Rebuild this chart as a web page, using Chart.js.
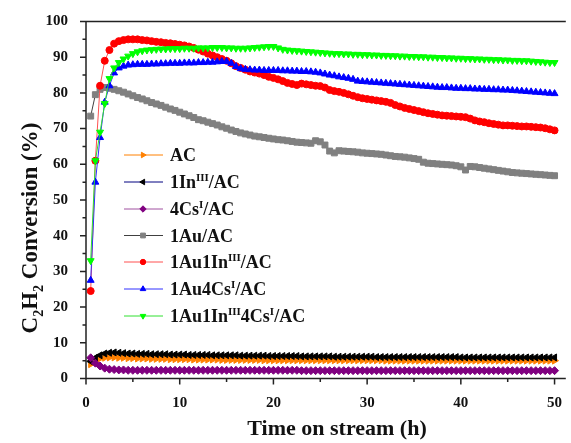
<!DOCTYPE html>
<html>
<head>
<meta charset="utf-8">
<script src="https://cdn.jsdelivr.net/npm/chart.js@4.4.0/dist/chart.umd.min.js"></script>
<style>
  html, body { margin: 0; padding: 0; background: #fff; }
</style>
</head>
<body>
<canvas id="convChart" width="571" height="443"></canvas>
<script>
// time on stream (h)
const hours = [
  0.5, 1, 1.5, 2, 2.5, 3, 3.5, 4, 4.5, 5,
  5.5, 6, 6.5, 7, 7.5, 8, 8.5, 9, 9.5, 10,
  10.5, 11, 11.5, 12, 12.5, 13, 13.5, 14, 14.5, 15,
  15.5, 16, 16.5, 17, 17.5, 18, 18.5, 19, 19.5, 20,
  20.5, 21, 21.5, 22, 22.5, 23, 23.5, 24, 24.5, 25,
  25.5, 26, 26.5, 27, 27.5, 28, 28.5, 29, 29.5, 30,
  30.5, 31, 31.5, 32, 32.5, 33, 33.5, 34, 34.5, 35,
  35.5, 36, 36.5, 37, 37.5, 38, 38.5, 39, 39.5, 40,
  40.5, 41, 41.5, 42, 42.5, 43, 43.5, 44, 44.5, 45,
  45.5, 46, 46.5, 47, 47.5, 48, 48.5, 49, 49.5, 50
];

const xTicks = [0, 10, 20, 30, 40, 50];
const yTicks = [0, 10, 20, 30, 40, 50, 60, 70, 80, 90, 100];

// legend names, ^{..} marks a superscript
const seriesNames = [
  'AC',
  '1In^{III}/AC',
  '4Cs^{I}/AC',
  '1Au/AC',
  '1Au1In^{III}/AC',
  '1Au4Cs^{I}/AC',
  '1Au1In^{III}4Cs^{I}/AC'
];

// C2H2 conversion (%)
const convAC = [
  4.0, 5.0, 5.6, 5.8, 5.9, 5.9, 5.8, 5.8, 5.7, 5.7,
  5.6, 5.6, 5.6, 5.5, 5.5, 5.5, 5.5, 5.4, 5.4, 5.4,
  5.4, 5.4, 5.3, 5.3, 5.3, 5.3, 5.3, 5.3, 5.2, 5.2,
  5.2, 5.2, 5.2, 5.2, 5.2, 5.2, 5.2, 5.1, 5.1, 5.1,
  5.1, 5.1, 5.1, 5.1, 5.1, 5.1, 5.1, 5.1, 5.1, 5.1,
  5.1, 5.1, 5.1, 5.1, 5.1, 5.1, 5.1, 5.1, 5.1, 5.1,
  5.1, 5.1, 5.1, 5.0, 5.0, 5.0, 5.0, 5.0, 5.0, 5.0,
  5.0, 5.0, 5.0, 5.0, 5.0, 5.0, 5.0, 5.0, 5.0, 5.0,
  5.0, 5.0, 5.0, 5.0, 5.0, 5.0, 5.0, 5.0, 5.0, 5.0,
  5.0, 5.0, 5.0, 5.0, 5.0, 5.0, 5.0, 5.0, 5.0, 5.0
];
const conv1In = [
  4.8, 5.8, 6.5, 7.0, 7.2, 7.3, 7.2, 7.1, 7.0, 7.0,
  6.9, 6.9, 6.9, 6.8, 6.8, 6.8, 6.8, 6.7, 6.7, 6.7,
  6.7, 6.6, 6.6, 6.6, 6.6, 6.6, 6.5, 6.5, 6.5, 6.5,
  6.5, 6.5, 6.4, 6.4, 6.4, 6.4, 6.4, 6.4, 6.3, 6.3,
  6.3, 6.3, 6.3, 6.3, 6.3, 6.2, 6.2, 6.2, 6.2, 6.2,
  6.2, 6.2, 6.1, 6.1, 6.1, 6.1, 6.1, 6.1, 6.1, 6.1,
  6.1, 6.0, 6.0, 6.0, 6.0, 6.0, 6.0, 6.0, 6.0, 6.0,
  6.0, 6.0, 6.0, 6.0, 6.0, 6.0, 6.0, 6.0, 6.0, 5.9,
  5.9, 5.9, 5.9, 5.9, 5.9, 5.9, 5.9, 5.9, 5.9, 5.9,
  5.9, 5.9, 5.9, 5.9, 5.9, 5.9, 5.9, 5.9, 5.9, 5.9
];
const conv4Cs = [
  5.8, 4.3, 3.5, 2.9, 2.6, 2.5, 2.4, 2.4, 2.3, 2.3,
  2.3, 2.3, 2.3, 2.3, 2.3, 2.3, 2.3, 2.3, 2.3, 2.3,
  2.3, 2.3, 2.3, 2.3, 2.3, 2.3, 2.3, 2.3, 2.3, 2.3,
  2.3, 2.3, 2.3, 2.3, 2.3, 2.3, 2.3, 2.3, 2.3, 2.3,
  2.3, 2.3, 2.3, 2.3, 2.3, 2.2, 2.2, 2.2, 2.2, 2.2,
  2.2, 2.2, 2.2, 2.2, 2.2, 2.2, 2.2, 2.2, 2.2, 2.2,
  2.2, 2.2, 2.2, 2.2, 2.2, 2.2, 2.2, 2.2, 2.2, 2.2,
  2.2, 2.2, 2.2, 2.2, 2.2, 2.2, 2.2, 2.2, 2.2, 2.2,
  2.2, 2.2, 2.2, 2.2, 2.2, 2.2, 2.2, 2.2, 2.2, 2.2,
  2.2, 2.2, 2.2, 2.2, 2.2, 2.2, 2.2, 2.2, 2.2, 2.2
];
const conv1Au = [
  73.5, 79.5, 81.0, 81.5, 81.3, 81.0, 80.6, 80.2, 79.7, 79.2,
  78.7, 78.3, 77.8, 77.3, 76.9, 76.5, 76.0, 75.5, 75.1, 74.6,
  74.1, 73.6, 73.1, 72.5, 72.2, 71.8, 71.4, 71.0, 70.5, 70.1,
  69.6, 69.2, 68.8, 68.5, 68.2, 67.9, 67.7, 67.5, 67.3, 67.1,
  66.9, 66.8, 66.6, 66.4, 66.2, 66.1, 66.0, 65.9, 66.6, 66.3,
  65.4, 63.7, 63.2, 63.8, 63.7, 63.6, 63.5, 63.4, 63.2, 63.1,
  63.0, 62.9, 62.8, 62.6, 62.4, 62.2, 62.1, 62.0, 61.8, 61.6,
  61.4, 60.6, 60.3, 60.2, 60.1, 60.0, 59.9, 59.8, 59.6, 59.3,
  58.4, 59.4, 59.3, 59.1, 58.9, 58.7, 58.5, 58.3, 58.1, 57.9,
  57.7, 57.6, 57.5, 57.4, 57.3, 57.2, 57.1, 57.0, 56.9, 56.8
];
const conv1Au1In = [
  24.5, 61.0, 82.0, 89.0, 92.0, 93.8, 94.5, 94.8, 95.0, 95.0,
  95.0, 94.8, 94.7, 94.5, 94.3, 94.2, 94.0, 93.9, 93.7, 93.5,
  93.3, 93.0, 92.6, 92.1, 91.6, 91.0, 90.5, 90.0, 89.5, 89.0,
  88.3, 87.5, 87.0, 86.5, 86.0, 85.7, 85.4, 85.0, 84.5, 84.2,
  83.8, 83.3, 82.8, 82.5, 82.2, 82.6, 82.4, 82.2, 82.0, 81.9,
  81.5, 80.8, 80.5, 80.3, 80.0, 79.6, 79.2, 78.8, 78.5, 78.3,
  78.1, 77.9, 77.7, 77.5, 77.2, 76.6, 76.2, 75.8, 75.5, 75.2,
  74.9, 74.6, 74.3, 74.1, 73.9, 73.7, 73.6, 73.5, 73.4, 73.3,
  73.2, 72.8, 72.3, 72.0, 71.8, 71.5, 71.3, 71.1, 70.9, 70.9,
  70.8, 70.7, 70.6, 70.6, 70.5, 70.4, 70.3, 70.1, 69.8, 69.5
];
const conv1Au4Cs = [
  27.5, 55.0, 67.5, 77.4, 82.0, 85.6, 87.0, 87.5, 87.8, 87.9,
  88.0, 88.0, 88.0, 88.1, 88.1, 88.2, 88.2, 88.3, 88.3, 88.3,
  88.4, 88.4, 88.4, 88.5, 88.5, 88.6, 88.6, 88.7, 88.8, 88.8,
  88.3, 87.4, 86.8, 86.6, 86.5, 86.4, 86.4, 86.3, 86.3, 86.3,
  86.3, 86.2, 86.2, 86.1, 86.1, 86.0, 86.0, 85.9, 85.8, 85.6,
  85.3, 85.0, 84.8, 84.5, 84.3, 84.1, 83.8, 83.3, 83.2, 83.1,
  83.0, 82.9, 82.8, 82.7, 82.6, 82.5, 82.4, 82.3, 82.2, 82.1,
  82.0, 81.9, 81.8, 81.7, 81.6, 81.5, 81.5, 81.4, 81.3, 81.3,
  81.2, 81.2, 81.1, 81.1, 81.0, 81.0, 80.9, 80.9, 80.8, 80.8,
  80.7, 80.6, 80.5, 80.4, 80.3, 80.2, 80.1, 80.0, 79.9, 79.8
];
const conv1Au1In4Cs = [
  33.0, 61.0, 69.0, 77.0, 84.0, 87.0, 88.5, 89.5, 90.3, 91.0,
  91.5, 91.8, 92.0, 92.1, 92.2, 92.3, 92.3, 92.4, 92.4, 92.4,
  92.5, 92.5, 92.5, 92.6, 92.6, 92.6, 92.7, 92.7, 92.7, 92.6,
  92.6, 92.5, 92.5, 92.5, 92.6, 92.7, 92.8, 92.9, 93.0, 93.0,
  92.6, 92.2, 92.0, 91.9, 91.8, 91.7, 91.6, 91.5, 91.4, 91.3,
  91.2, 91.1, 91.0, 91.0, 90.9, 90.9, 90.8, 90.8, 90.7, 90.7,
  90.6, 90.6, 90.5, 90.5, 90.4, 90.4, 90.3, 90.3, 90.2, 90.2,
  90.1, 90.1, 90.0, 90.0, 89.9, 89.9, 89.8, 89.8, 89.7, 89.7,
  89.6, 89.6, 89.5, 89.5, 89.4, 89.4, 89.3, 89.3, 89.2, 89.2,
  89.1, 89.1, 89.0, 89.0, 88.9, 88.8, 88.7, 88.6, 88.5, 88.5
];

const serif = "'Liberation Serif', 'Times New Roman', serif";

// marker colour, line colour, point style, rotation, radius
const styles = [
  { mark: '#FF8000', line: '#FF8000', shape: 'triangle', rot: 90,  r: 4 },
  { mark: '#000000', line: '#000080', shape: 'triangle', rot: -90, r: 4 },
  { mark: '#800080', line: '#A050A0', shape: 'rectRot',  rot: 0,   r: 4 },
  { mark: '#808080', line: '#404040', shape: 'rect',     rot: 0,   r: 4.2 },
  { mark: '#FF0000', line: '#FF5050', shape: 'circle',   rot: 0,   r: 3.5 },
  { mark: '#0000FF', line: '#3030FF', shape: 'triangle', rot: 0,   r: 4 },
  { mark: '#00FF00', line: '#30E030', shape: 'triangle', rot: 180, r: 4 }
];
const seriesValues = [convAC, conv1In, conv4Cs, conv1Au, conv1Au1In, conv1Au4Cs, conv1Au1In4Cs];

const datasets = seriesValues.map((vals, i) => ({
  label: seriesNames[i],
  data: vals.map((v, k) => ({ x: hours[k], y: v })),
  borderColor: styles[i].line,
  borderWidth: 1,
  backgroundColor: styles[i].mark,
  pointBackgroundColor: styles[i].mark,
  pointBorderColor: styles[i].mark,
  pointBorderWidth: 1,
  pointStyle: styles[i].shape,
  pointRotation: styles[i].rot,
  pointRadius: styles[i].r,
  tension: 0,
  order: seriesValues.length - i
}));

// split "a^{b}c_{d}" into plain / raised / lowered pieces
function parseRich(str) {
  const parts = [];
  const re = /([\^_])\{([^}]*)\}/g;
  let last = 0, m;
  while ((m = re.exec(str)) !== null) {
    if (m.index > last) parts.push({ t: str.slice(last, m.index), mode: 0 });
    parts.push({ t: m[2], mode: m[1] === '^' ? -1 : 1 });
    last = re.lastIndex;
  }
  if (last < str.length) parts.push({ t: str.slice(last), mode: 0 });
  return parts;
}

function richWidth(ctx, parts, size) {
  let w = 0;
  parts.forEach(p => {
    ctx.font = `bold ${p.mode ? Math.round(size * 0.6) : size}px ${serif}`;
    w += ctx.measureText(p.t).width;
  });
  return w;
}

function drawRich(ctx, parts, x, y, size) {
  let cx = x;
  parts.forEach(p => {
    ctx.font = `bold ${p.mode ? Math.round(size * 0.6) : size}px ${serif}`;
    const dy = p.mode === -1 ? -size * 0.38 : p.mode === 1 ? size * 0.28 : 0;
    ctx.fillText(p.t, cx, y + dy);
    cx += ctx.measureText(p.t).width;
  });
}

const framePlugin = {
  id: 'frame',
  afterDraw(chart) {
    const { ctx, chartArea: a, scales: { x, y } } = chart;
    ctx.save();
    ctx.strokeStyle = '#222';
    ctx.lineWidth = 1.5;
    ctx.beginPath();
    ctx.moveTo(a.left, a.top); ctx.lineTo(a.right, a.top);
    ctx.moveTo(a.left, a.top); ctx.lineTo(a.left, a.bottom);
    ctx.moveTo(a.left, a.bottom); ctx.lineTo(a.right, a.bottom);
    // outward ticks, minor every 5
    for (let v = 0; v <= 100; v += 5) {
      const py = y.getPixelForValue(v);
      const len = v % 10 === 0 ? 6 : 3.5;
      ctx.moveTo(a.left - len, py); ctx.lineTo(a.left, py);
    }
    for (let v = 0; v <= 50; v += 5) {
      const px = x.getPixelForValue(v);
      const len = v % 10 === 0 ? 6 : 3.5;
      ctx.moveTo(px, a.bottom); ctx.lineTo(px, a.bottom + len);
    }
    ctx.stroke();

    ctx.fillStyle = '#111';
    ctx.textBaseline = 'alphabetic';

    // x title
    ctx.font = `bold 22px ${serif}`;
    ctx.textAlign = 'center';
    ctx.fillText('Time on stream (h)', 337, 435);

    // y title with subscripts
    ctx.textAlign = 'left';
    const yParts = parseRich('C_{2}H_{2} Conversion (%)');
    const w = richWidth(ctx, yParts, 23);
    ctx.translate(37, 228);
    ctx.rotate(-Math.PI / 2);
    drawRich(ctx, yParts, -w / 2, 0, 23);
    ctx.setTransform(1, 0, 0, 1, 0, 0);

    // legend
    const rowY = [155, 182, 209, 235.5, 262, 289, 316];
    seriesNames.forEach((name, i) => {
      const st = styles[i];
      const ly = rowY[i];
      ctx.strokeStyle = st.line;
      ctx.lineWidth = 1;
      ctx.beginPath();
      ctx.moveTo(124, ly); ctx.lineTo(163, ly);
      ctx.stroke();
      ctx.fillStyle = st.mark;
      ctx.strokeStyle = st.mark;
      Chart.helpers.drawPoint(ctx, { pointStyle: st.shape, rotation: st.rot, radius: st.r - 0.8, borderWidth: 1 }, 143, ly);
      ctx.fillStyle = '#111';
      drawRich(ctx, parseRich(name), 170, ly + 6, 18);
    });
    ctx.restore();
  }
};

new Chart(document.getElementById('convChart'), {
  type: 'line',
  data: { datasets: datasets },
  options: {
    responsive: false,
    animation: false,
    layout: { padding: { top: 21.5, right: 0, left: 0, bottom: 0 } },
    plugins: {
      legend: { display: false },
      tooltip: { enabled: false }
    },
    scales: {
      x: {
        type: 'linear',
        min: 0,
        max: 51.2,
        grid: { display: false },
        border: { display: false },
        afterBuildTicks: s => { s.ticks = xTicks.map(v => ({ value: v })); },
        afterFit: s => { s.height = 64.5; },
        ticks: {
          padding: 8,
          color: '#111',
          font: { family: serif, size: 15, weight: 'bold' }
        }
      },
      y: {
        min: 0,
        max: 100,
        grid: { display: false },
        border: { display: false },
        afterBuildTicks: s => { s.ticks = yTicks.map(v => ({ value: v })); },
        afterFit: s => { s.width = 86; },
        ticks: {
          padding: 10,
          color: '#111',
          font: { family: serif, size: 15, weight: 'bold' }
        }
      }
    }
  },
  plugins: [framePlugin]
});
</script>
</body>
</html>
